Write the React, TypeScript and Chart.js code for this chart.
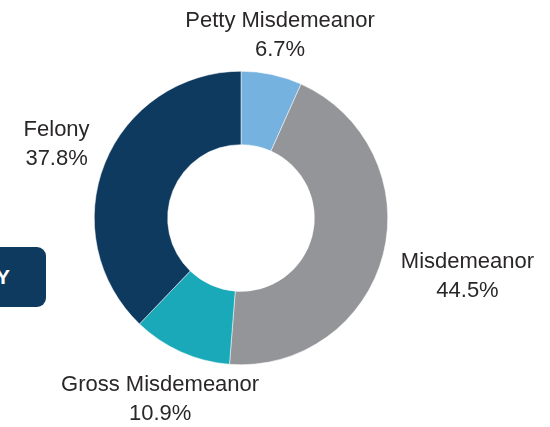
import React, { useEffect, useRef } from "react";
import { Chart, registerables } from "chart.js";

Chart.register(...registerables);

const categories = ["Petty Misdemeanor", "Misdemeanor", "Gross Misdemeanor", "Felony"];
const shares = [6.7, 44.5, 10.9, 37.8];
const percentLabels = ["6.7%", "44.5%", "10.9%", "37.8%"];
const sliceColors = ["#75b2e0", "#949598", "#1aa9b8", "#0e3a5f"];
const labelOffsets = [40, 87, 51, 52];

const labelPlugin = {
  id: "outsideLabels",
  afterDatasetsDraw(chart: any) {
    const ctx = chart.ctx;
    const meta = chart.getDatasetMeta(0);
    ctx.save();
    ctx.font = "22px 'Liberation Sans', Arial, sans-serif";
    ctx.fillStyle = "#2a2728";
    ctx.textAlign = "center";
    ctx.textBaseline = "middle";
    meta.data.forEach((arc: any, i: number) => {
      const p = arc.getProps(["x", "y", "startAngle", "endAngle", "outerRadius"], true);
      const mid = (p.startAngle + p.endAngle) / 2;
      const r = p.outerRadius + labelOffsets[i];
      const lx = p.x + Math.cos(mid) * r;
      const ly = p.y + Math.sin(mid) * r;
      ctx.fillText(categories[i], lx, ly - 14);
      ctx.fillText(percentLabels[i], lx, ly + 15);
    });
    ctx.restore();
  },
};

export default function App() {
  const ref = useRef<HTMLCanvasElement>(null);
  useEffect(() => {
    if (!ref.current) return;
    const chart = new Chart(ref.current, {
      type: "doughnut",
      data: {
        labels: categories,
        datasets: [
          {
            data: shares,
            backgroundColor: sliceColors,
            borderColor: "#ffffff",
            borderWidth: 0.5,
          },
        ],
      },
      options: {
        responsive: false,
        animation: false,
        cutout: "50%",
        layout: { padding: { left: 94, right: 162, top: 71, bottom: 62 } },
        plugins: { legend: { display: false }, tooltip: { enabled: false } },
      },
      plugins: [labelPlugin],
    });
    return () => chart.destroy();
  }, []);
  return (
    <div style={{ position: "fixed", left: 0, top: 0, width: 550, height: 427, background: "#fff", overflow: "hidden" }}>
      <canvas ref={ref} width={550} height={427} style={{ position: "absolute", left: 0, top: 0 }} />
      <div
        style={{
          position: "absolute",
          left: -80,
          top: 247,
          width: 126,
          height: 60,
          background: "#0e3a5f",
          borderRadius: 9,
          color: "#fff",
          fontFamily: "'Liberation Sans', Arial, sans-serif",
          fontWeight: "bold",
          fontSize: 21,
          display: "flex",
          alignItems: "center",
          justifyContent: "flex-end",
          paddingRight: 36,
          boxSizing: "border-box",
        }}
      >
        KEY
      </div>
    </div>
  );
}
